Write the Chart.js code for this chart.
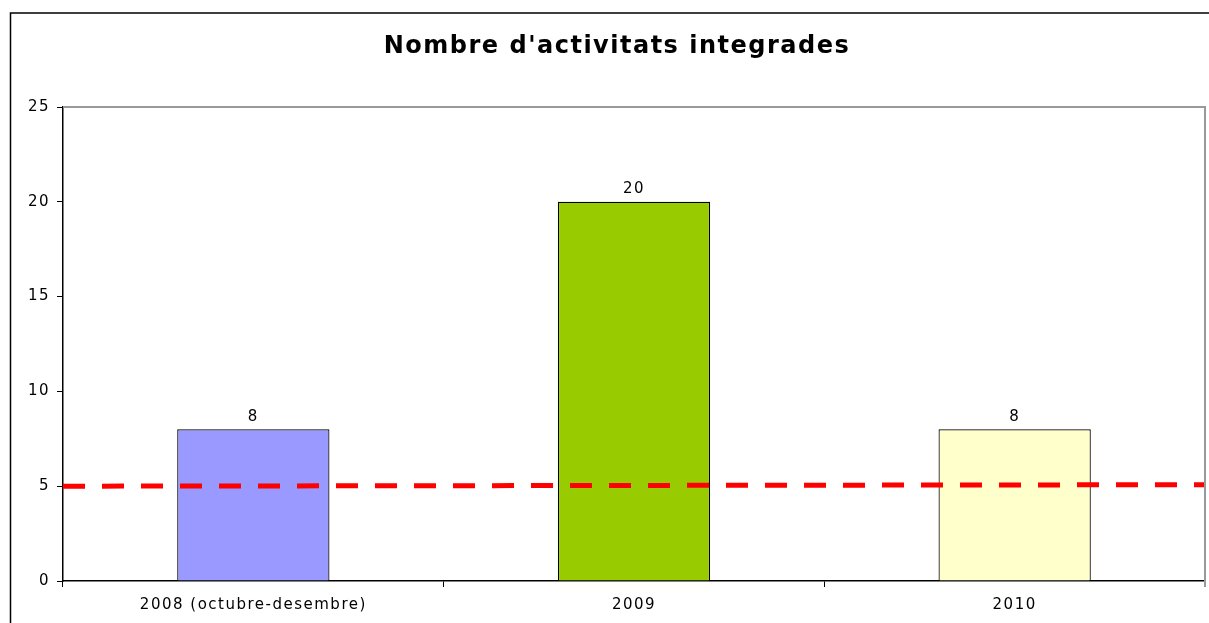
<!DOCTYPE html>
<html>
<head>
<meta charset="utf-8">
<script src="https://cdn.jsdelivr.net/npm/chart.js@4/dist/chart.umd.min.js"></script>
<style>
  html, body { margin: 0; padding: 0; background: #fff; }
  #wrap { width: 1209px; height: 623px; }
</style>
</head>
<body>
<div id="wrap"><canvas id="activitats"></canvas></div>
<script>
var categories = ["2008 (octubre-desembre)", "2009", "2010"];
var activitats = [8, 20, 8];
var barColors = ["#9999FF", "#99CC00", "#FFFFCC"];
var refLine = [5.0, 5.08];
var yTicks = [0, 5, 10, 15, 20, 25];
var titleText = "Nombre d'activitats integrades";

var fontFamily = "'DejaVu Sans', Verdana, sans-serif";

// frame, title, plot border and value labels
var decorations = {
    id: 'decorations',
    beforeDraw: function (chart) {
        var ctx = chart.ctx;
        ctx.letterSpacing = '1.5px';
        ctx.save();
        ctx.strokeStyle = '#000';
        ctx.lineWidth = 1.5;
        ctx.beginPath();
        ctx.moveTo(10.5, 623);
        ctx.lineTo(10.5, 13);
        ctx.lineTo(1209, 13);
        ctx.stroke();
        ctx.fillStyle = '#000';
        ctx.font = 'bold 24px ' + fontFamily;
        ctx.letterSpacing = '1.5px';
        ctx.textAlign = 'center';
        ctx.textBaseline = 'middle';
        ctx.fillText(titleText, 617, 47);
        ctx.restore();
    },
    afterDatasetsDraw: function (chart) {
        var ctx = chart.ctx;
        var a = chart.chartArea;
        ctx.save();
        ctx.strokeStyle = '#999';
        ctx.lineWidth = 2;
        ctx.beginPath();
        ctx.moveTo(a.left, a.top);
        ctx.lineTo(a.right, a.top);
        ctx.lineTo(a.right, a.bottom + 6);
        ctx.stroke();
        var meta = chart.getDatasetMeta(1);
        ctx.fillStyle = '#000';
        ctx.font = '15px ' + fontFamily;
        ctx.textAlign = 'center';
        ctx.textBaseline = 'bottom';
        meta.data.forEach(function (bar, i) {
            ctx.fillText(activitats[i], bar.x, bar.y - 5);
        });
        ctx.restore();
    }
};

new Chart(document.getElementById('activitats'), {
    type: 'bar',
    data: {
        labels: categories,
        datasets: [
            {
                type: 'line',
                label: 'referencia',
                xAxisID: 'x2',
                data: [{ x: 0, y: refLine[0] }, { x: 3, y: refLine[1] }],
                borderColor: '#FF0000',
                borderWidth: 5,
                borderDash: [22, 17],
                borderCapStyle: 'butt',
                pointRadius: 0,
                order: 0
            },
            {
                label: "Nombre d'activitats",
                data: activitats,
                backgroundColor: barColors,
                borderColor: '#000',
                borderWidth: 1.2,
                grouped: false,
                categoryPercentage: 1,
                barPercentage: 0.4,
                order: 1
            }
        ]
    },
    options: {
        responsive: true,
        maintainAspectRatio: false,
        animation: false,
        layout: { padding: { top: 107, right: 4, left: 0, bottom: 0 } },
        plugins: {
            legend: { display: false },
            title: { display: false },
            tooltip: { enabled: false }
        },
        scales: {
            x: {
                grid: { drawOnChartArea: false, color: '#000', tickLength: 6, offset: true },
                border: { color: '#000', width: 1.5 },
                ticks: { color: '#000', font: { family: fontFamily, size: 15 }, padding: 9 },
                afterFit: function (s) { s.height = 42; }
            },
            x2: {
                type: 'linear',
                display: false,
                offset: false,
                min: 0,
                max: 3
            },
            y: {
                min: 0,
                max: 25,
                afterBuildTicks: function (s) { s.ticks = yTicks.map(function (v) { return { value: v }; }); },
                grid: { drawOnChartArea: false, color: '#000', tickLength: 6 },
                border: { color: '#000', width: 1.5 },
                ticks: { color: '#000', font: { family: fontFamily, size: 15 }, padding: 7 },
                afterFit: function (s) { s.width = 63; }
            }
        }
    },
    plugins: [decorations]
});
</script>
</body>
</html>
